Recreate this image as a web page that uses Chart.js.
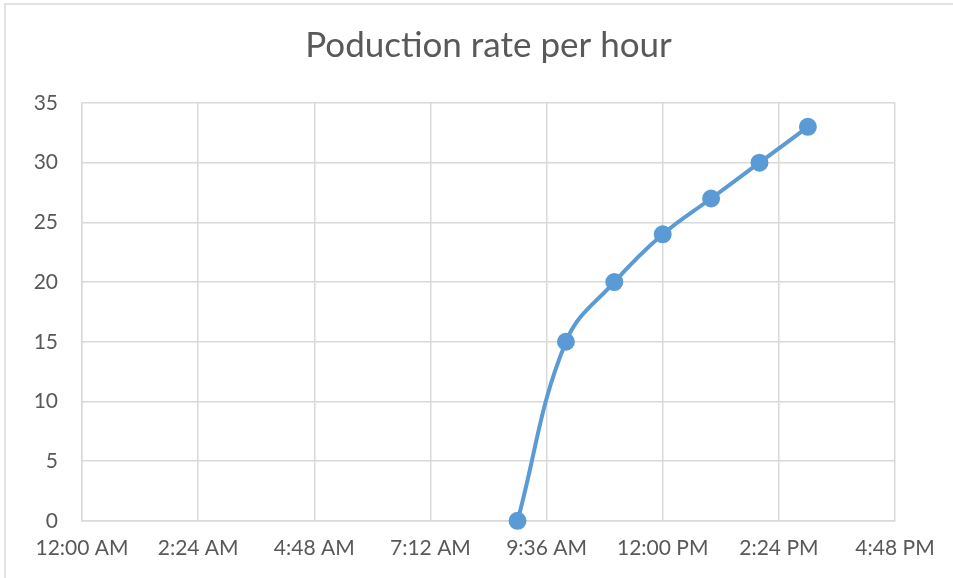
<!DOCTYPE html>
<html>
<head>
<meta charset="utf-8">
<script src="https://cdn.jsdelivr.net/npm/chart.js@4/dist/chart.umd.min.js"></script>
<style>
  html, body { margin: 0; padding: 0; background: #fff; }
  #wrap { width: 953px; height: 578px; }
</style>
</head>
<body>
<div id="wrap"><canvas id="c" width="953" height="578"></canvas></div>
<script>
// Hour of day for each reading and the output counted at that time
const hours = [9, 10, 11, 12, 13, 14, 15];
const output = [0, 15, 20, 24, 27, 30, 33];
const chartTitle = 'Poduction rate per hour';

// Excel stores times as fractions of a day
const points = hours.map((h, i) => ({ x: h / 24, y: output[i] }));

function timeLabel(dayFrac) {
  const mins = Math.round(dayFrac * 1440);
  let h = Math.floor(mins / 60) % 24;
  const m = mins % 60;
  const ampm = h < 12 ? 'AM' : 'PM';
  h = h % 12;
  if (h === 0) h = 12;
  return h + ':' + String(m).padStart(2, '0') + ' ' + ampm;
}

const frame = {
  id: 'frame',
  beforeDraw(chart) {
    const ctx = chart.ctx;
    ctx.save();
    ctx.fillStyle = '#fff';
    ctx.fillRect(0, 0, chart.width, chart.height);
    ctx.strokeStyle = '#d9d9d9';
    ctx.lineWidth = 1.5;
    ctx.beginPath();
    ctx.moveTo(5, chart.height + 5);
    ctx.lineTo(5, 4);
    ctx.lineTo(chart.width + 5, 4);
    ctx.stroke();
    ctx.restore();
  }
};

const textColor = '#595959';
const gridColor = '#d9d9d9';

new Chart(document.getElementById('c'), {
  type: 'scatter',
  data: {
    datasets: [{
      data: points,
      showLine: true,
      tension: 0.4,
      borderColor: '#5b9bd5',
      backgroundColor: '#5b9bd5',
      borderWidth: 4,
      pointRadius: 7,
      pointHoverRadius: 7,
      clip: false
    }]
  },
  options: {
    responsive: false,
    animation: false,
    layout: { padding: { left: 24, right: 58, top: 25, bottom: 2 } },
    plugins: {
      legend: { display: false },
      tooltip: { enabled: false },
      title: {
        display: true,
        text: chartTitle,
        fullSize: false,
        color: textColor,
        font: { family: 'Lato', size: 35, weight: 'normal' },
        padding: { top: 0, bottom: 36 }
      }
    },
    scales: {
      x: {
        type: 'linear',
        min: 0,
        max: 0.7,
        ticks: {
          stepSize: 0.1,
          color: textColor,
          font: { family: 'Lato', size: 21 },
          padding: 15,
          maxRotation: 0,
          callback: v => timeLabel(v)
        },
        grid: { color: gridColor, lineWidth: 1.5, drawTicks: false },
        border: { color: gridColor, width: 1.5 },
        afterFit(s) { s.paddingLeft = 0; s.paddingRight = 0; }
      },
      y: {
        min: 0,
        max: 35,
        ticks: {
          stepSize: 5,
          color: textColor,
          font: { family: 'Lato', size: 21 },
          padding: 24
        },
        grid: { color: gridColor, lineWidth: 1.5, drawTicks: false },
        border: { color: gridColor, width: 1.5 },
        afterFit(s) { s.width = 58; }
      }
    }
  },
  plugins: [frame]
});
</script>
</body>
</html>
